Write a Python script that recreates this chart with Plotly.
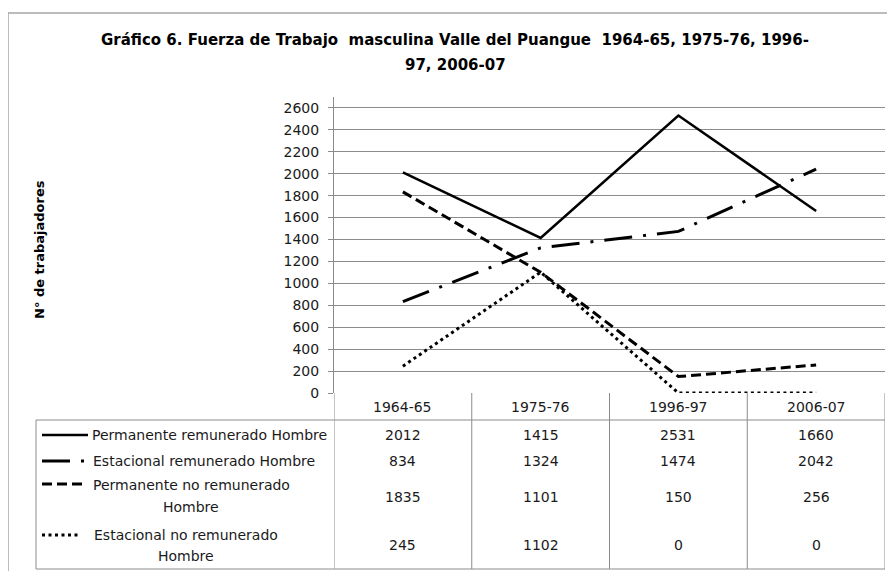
import plotly.graph_objects as go

# ---------------- data ----------------
categories = ["1964-65", "1975-76", "1996-97", "2006-07"]
perm_rem = [2012, 1415, 2531, 1660]
est_rem = [834, 1324, 1474, 2042]
perm_norem = [1835, 1101, 150, 256]
est_norem = [245, 1102, 0, 0]
series_values = [perm_rem, est_rem, perm_norem, est_norem]
series_labels = [
    ["Permanente remunerado Hombre"],
    ["Estacional remunerado Hombre"],
    ["Permanente no remunerado", "Hombre"],
    ["Estacional no remunerado", "Hombre"],
]
y_ticks = list(range(0, 2601, 200))
title_lines = ["Gráfico 6. Fuerza de Trabajo  masculina Valle del Puangue  1964-65, 1975-76, 1996-",
               "97, 2006-07"]
y_title = "N° de trabajadores"

# ---------------- layout helpers (screen pixel coords; page body has 8px margin) ----------------
OFF = 8
W, H = 895, 571
PLOT_L, PLOT_R, PLOT_T, PLOT_B = 334, 885, 97, 393   # screen coords of plot area
L = PLOT_L - OFF
T = PLOT_T - OFF
R = W - (PLOT_R - OFF)
B = H - (PLOT_B - OFF)
PW = W - L - R
PH = H - T - B


def yp(sy):
    return (PLOT_B - sy) / PH


def xp(sx):
    return (sx - PLOT_L) / PW


GRID = "#8c8c8c"
FONT = "DejaVu Sans"
TXT = "#1a1a1a"

styles = [
    dict(dash="solid", width=2.6),
    dict(dash="28px,11px,3px,11px", width=3),
    dict(dash="10px,5px", width=3),
    dict(dash="3px,3.5px", width=3),
]

fig = go.Figure()
for vals, st, lab in zip(series_values, styles, series_labels):
    fig.add_trace(go.Scatter(
        x=categories, y=vals, mode="lines", name=" ".join(lab),
        line=dict(color="black", width=st["width"], dash=st["dash"]),
        showlegend=False, hoverinfo="x+y",
    ))

shapes = []
annotations = []


def ann(x, y, text, size=14, xref="paper", xanchor="center", bold=False, angle=0, color=TXT):
    font = dict(family=FONT, size=size, color=color)
    if bold:
        font["weight"] = "bold"
    annotations.append(dict(x=x, y=y, xref=xref, yref="paper", text=text, showarrow=False,
                            xanchor=xanchor, yanchor="middle", textangle=angle, font=font))


# outer chart border
shapes.append(dict(type="rect", xref="paper", yref="paper",
                   x0=xp(8), x1=xp(910), y0=yp(13), y1=yp(600),
                   line=dict(color="#a6a6a6", width=1.5), layer="below"))

# table grid
tbl_top, hdr_bot, tbl_bot, tbl_left = 393, 420, 569, 36
for b in [-0.5, 0.5, 1.5, 2.5, 3.5]:
    shapes.append(dict(type="line", xref="x", yref="paper", x0=b, x1=b,
                       y0=yp(tbl_top), y1=yp(tbl_bot), line=dict(color=GRID, width=1)))
for yy in (hdr_bot, tbl_bot):
    shapes.append(dict(type="line", xref="paper", yref="paper", x0=xp(tbl_left), x1=1,
                       y0=yp(yy), y1=yp(yy), line=dict(color=GRID, width=1)))
shapes.append(dict(type="line", xref="paper", yref="paper", x0=xp(tbl_left), x1=xp(tbl_left),
                   y0=yp(hdr_bot), y1=yp(tbl_bot), line=dict(color=GRID, width=1)))

# header labels
for c in categories:
    ann(c, yp(407), c, xref="x")

# values
row_y = [435, 461, 497, 545]
for vals, ry in zip(series_values, row_y):
    for c, v in zip(categories, vals):
        ann(c, yp(ry), str(v), xref="x")

# legend keys + row labels
key_geom = [(42, 88, 435), (42, 86, 461), (42, 82, 484), (42, 80, 535)]
for (x0, x1, ky), st in zip(key_geom, styles):
    shapes.append(dict(type="line", xref="paper", yref="paper", x0=xp(x0), x1=xp(x1),
                       y0=yp(ky), y1=yp(ky), line=dict(color="black", width=st["width"], dash=st["dash"])))

ann(xp(90), yp(435), series_labels[0][0], xanchor="left")
ann(xp(91), yp(461), series_labels[1][0], xanchor="left")
for lab, ys, cx in [(series_labels[2], (485, 507), 191), (series_labels[3], (535, 556), 186)]:
    for t, yy in zip(lab, ys):
        ann(xp(cx), yp(yy), t)

# title
for t, yy in zip(title_lines, (40, 65)):
    ann(xp(455), yp(yy), t, size=15, bold=True, color="black")

# y-axis title
ann(xp(39), yp(250), y_title, size=13, bold=True, angle=-90, color="black")

fig.update_layout(
    width=W, height=H,
    margin=dict(l=L, r=R, t=T, b=B),
    paper_bgcolor="white", plot_bgcolor="white",
    shapes=shapes, annotations=annotations,
    xaxis=dict(type="category", range=[-0.5, 3.5], showticklabels=False, showgrid=False,
               zeroline=False, showline=False, fixedrange=True),
    yaxis=dict(range=[0, 2700], tickvals=y_ticks, showgrid=True, gridcolor=GRID, gridwidth=1,
               zeroline=False, showline=True, linecolor=GRID, linewidth=1,
               ticks="outside", ticklen=5, tickcolor=GRID, ticklabelstandoff=6,
               tickfont=dict(family=FONT, size=14, color=TXT), fixedrange=True),
)

fig.write_html("out.html")
